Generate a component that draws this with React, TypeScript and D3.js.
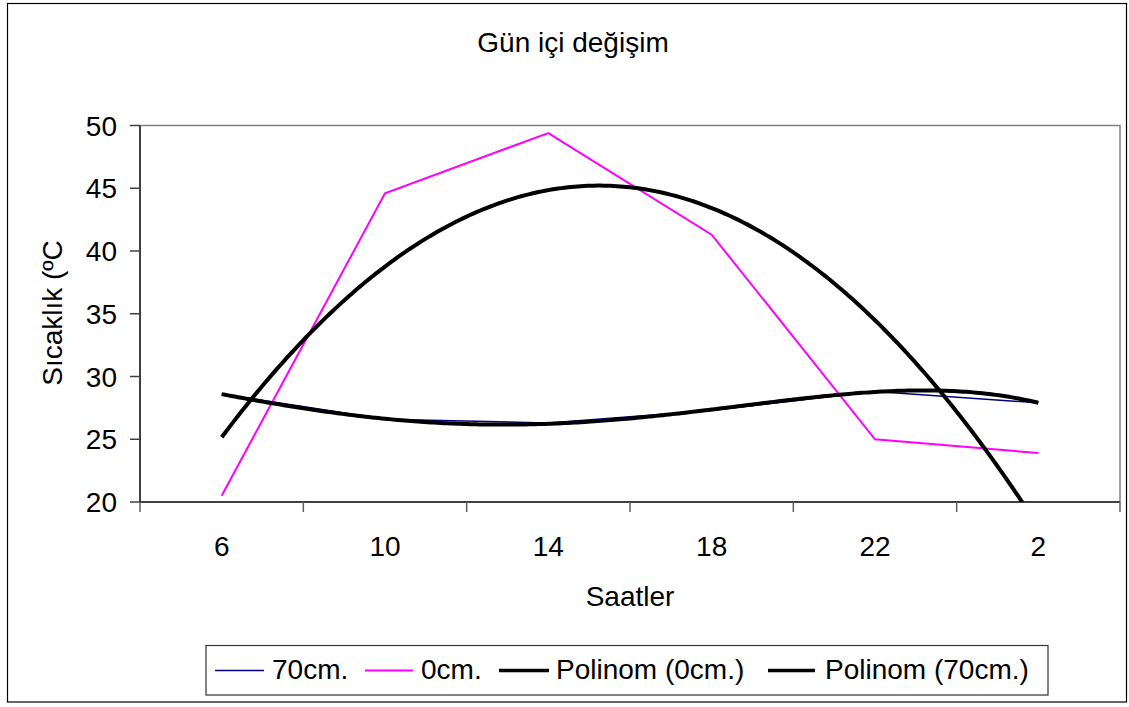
import React from "react";
import * as d3 from "d3";

const categories = ["6", "10", "14", "18", "22", "2"];
const series70 = [28.6, 26.6, 26.3, 27.3, 28.8, 27.9];
const series0 = [20.5, 44.6, 49.4, 41.3, 25.0, 23.9];
const yTicks = [20, 25, 30, 35, 40, 45, 50];
const legendLabels = ["70cm.", "0cm.", "Polinom (0cm.)", "Polinom (70cm.)"];

function polyFit(ys: number[], order: number) {
  const n = order + 1;
  const xs = ys.map((_, i) => i + 1);
  const A: number[][] = [];
  for (let r = 0; r < n; r++) {
    const row: number[] = [];
    for (let c = 0; c < n; c++) row.push(d3.sum(xs, (x) => Math.pow(x, r + c)));
    row.push(d3.sum(xs, (x, i) => Math.pow(x, r) * ys[i]));
    A.push(row);
  }
  for (let i = 0; i < n; i++) {
    let p = i;
    for (let k = i + 1; k < n; k++) if (Math.abs(A[k][i]) > Math.abs(A[p][i])) p = k;
    [A[i], A[p]] = [A[p], A[i]];
    for (let k = i + 1; k < n; k++) {
      const f = A[k][i] / A[i][i];
      for (let c = i; c <= n; c++) A[k][c] -= f * A[i][c];
    }
  }
  const coef = new Array(n).fill(0);
  for (let i = n - 1; i >= 0; i--) {
    let s = A[i][n];
    for (let c = i + 1; c < n; c++) s -= A[i][c] * coef[c];
    coef[i] = s / A[i][i];
  }
  return (x: number) => coef.reduce((acc, c, i) => acc + c * Math.pow(x, i), 0);
}

export default function App() {
  const left = 140, right = 1120, top = 125.5, bottom = 502;
  const x = d3.scaleLinear().domain([-0.5, 5.5]).range([left, right]);
  const y = d3.scaleLinear().domain([20, 50]).range([bottom, top]);
  const font = "Arial, 'Liberation Sans', sans-serif";
  const fs = 28;

  const line = d3.line<number>().x((_, i) => x(i)).y((d) => y(d));
  const fit0 = polyFit(series0, 2);
  const fit70 = polyFit(series70, 4);
  const samples = d3.range(0, 5.0001, 0.02);
  const trendPath = (f: (v: number) => number) =>
    d3.line<number>().x((t) => x(t)).y((t) => y(f(t + 1)))(samples) || "";

  const bandW = (right - left) / categories.length;
  const xTicks = d3.range(categories.length + 1).map((i) => left + i * bandW);

  const legendItems = [
    { label: legendLabels[0], color: "#000080", w: 1.5, x1: 215, x2: 264, tx: 272 },
    { label: legendLabels[1], color: "#FF00FF", w: 2, x1: 365, x2: 413, tx: 421 },
    { label: legendLabels[2], color: "#000", w: 3.5, x1: 499, x2: 549, tx: 556 },
    { label: legendLabels[3], color: "#000", w: 3.5, x1: 768, x2: 815, tx: 825 },
  ];

  return (
    <svg width={1129} height={707} style={{ position: "absolute", left: 0, top: 0, background: "#fff" }} fontFamily={font}>
      <defs>
        <clipPath id="plotClip">
          <rect x={left} y={top} width={right - left} height={bottom - top} />
        </clipPath>
      </defs>
      <rect x={7.5} y={3.5} width={1119} height={698.5} fill="#fff" stroke="#000" strokeWidth={1.2} />
      <text x={573} y={52} fontSize={fs} textAnchor="middle" fill="#000">Gün içi değişim</text>

      <rect x={left} y={top} width={right - left} height={bottom - top} fill="none" stroke="#808080" strokeWidth={1.5} />

      <line x1={left} y1={top} x2={left} y2={bottom} stroke="#404040" strokeWidth={2} />
      {yTicks.map((t) => (
        <g key={t}>
          <line x1={130} x2={left} y1={y(t)} y2={y(t)} stroke="#404040" strokeWidth={1.5} />
          <text x={117} y={y(t)} dy="0.36em" fontSize={fs} textAnchor="end" fill="#000">{t}</text>
        </g>
      ))}
      <line x1={left} y1={bottom} x2={right} y2={bottom} stroke="#404040" strokeWidth={2} />
      {xTicks.map((t, i) => (
        <line key={i} x1={t} x2={t} y1={bottom} y2={bottom + 10} stroke="#606060" strokeWidth={1.5} />
      ))}
      {categories.map((c, i) => (
        <text key={c + i} x={x(i)} y={556} fontSize={fs} textAnchor="middle" fill="#000">{c}</text>
      ))}

      <text x={630} y={606} fontSize={fs} textAnchor="middle" fill="#000">Saatler</text>
      <text transform="translate(62,313) rotate(-90)" fontSize={fs} textAnchor="middle" fill="#000">Sıcaklık (ºC</text>

      <g clipPath="url(#plotClip)">
        <path d={line(series70) || ""} fill="none" stroke="#000080" strokeWidth={1.5} />
        <path d={line(series0) || ""} fill="none" stroke="#FF00FF" strokeWidth={2} />
        <path d={trendPath(fit0)} fill="none" stroke="#000" strokeWidth={4} strokeLinejoin="round" />
        <path d={trendPath(fit70)} fill="none" stroke="#000" strokeWidth={4} strokeLinejoin="round" />
      </g>

      <rect x={206} y={645.5} width={842} height={49.5} fill="#fff" stroke="#333" strokeWidth={1.2} />
      {legendItems.map((it) => (
        <g key={it.label}>
          <line x1={it.x1} x2={it.x2} y1={670.5} y2={670.5} stroke={it.color} strokeWidth={it.w} />
          <text x={it.tx} y={679} fontSize={fs} fill="#000">{it.label}</text>
        </g>
      ))}
    </svg>
  );
}
